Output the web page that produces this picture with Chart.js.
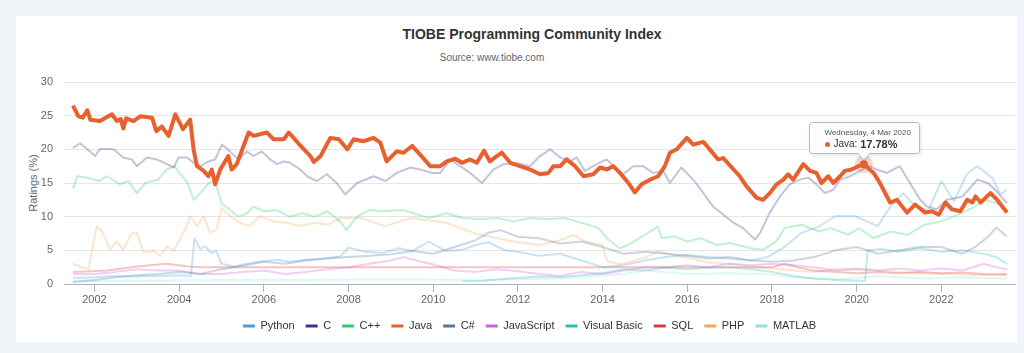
<!DOCTYPE html>
<html>
<head>
<meta charset="utf-8">
<script src="https://cdn.jsdelivr.net/npm/chart.js@4.4.0/dist/chart.umd.min.js"></script>
<style>
html, body { margin: 0; padding: 0; width: 1024px; height: 353px; overflow: hidden; background: #f1f5fa; font-family: "Liberation Sans", Arial, sans-serif; }
#card { position: absolute; left: 16px; top: 16px; width: 1001px; height: 326px; background: #fff; }
#title { position: absolute; left: 532px; top: 26px; transform: translateX(-50%); font-size: 14px; font-weight: bold; color: #333; white-space: nowrap; }
#subtitle { position: absolute; left: 492px; top: 52px; transform: translateX(-50%); font-size: 10px; color: #666; white-space: nowrap; }
#ytitle { position: absolute; left: 33px; top: 183px; transform: translate(-50%, -50%) rotate(-90deg); font-size: 11px; color: #666; white-space: nowrap; }
#wrap { position: absolute; left: 0; top: 0; width: 1024px; height: 353px; }
</style>
</head>
<body>
<div id="card"></div>
<div id="title">TIOBE Programming Community Index</div>
<div id="subtitle">Source: www.tiobe.com</div>
<div id="ytitle">Ratings (%)</div>
<div id="wrap"><canvas id="myChart"></canvas></div>
<script>
// ratings, [year, percent]
var java = [[2001.49,26.5],[2001.62,24.9],[2001.72,24.7],[2001.83,25.8],[2001.9,24.4],[2002.13,24.2],[2002.41,25.2],[2002.53,24.2],[2002.62,24.5],[2002.68,23.1],[2002.75,24.6],[2002.92,24.2],[2003.08,24.9],[2003.36,24.7],[2003.46,22.7],[2003.59,23.4],[2003.75,22.0],[2003.91,25.2],[2004.09,23.0],[2004.26,24.4],[2004.34,20.0],[2004.42,17.5],[2004.58,16.8],[2004.69,16.0],[2004.77,17.0],[2004.85,14.8],[2004.97,17.0],[2005.16,19.0],[2005.24,17.0],[2005.36,17.8],[2005.52,20.5],[2005.64,22.5],[2005.76,22.0],[2006.07,22.5],[2006.23,21.5],[2006.47,21.5],[2006.59,22.5],[2006.87,20.5],[2007.1,19.0],[2007.18,18.1],[2007.34,19.0],[2007.57,21.7],[2007.77,21.5],[2007.97,20.0],[2008.12,21.5],[2008.35,21.2],[2008.59,21.7],[2008.75,21.0],[2008.9,18.2],[2009.14,19.7],[2009.3,19.5],[2009.5,20.5],[2009.69,19.2],[2009.93,17.5],[2010.17,17.5],[2010.32,18.2],[2010.52,18.6],[2010.68,18.0],[2010.87,18.5],[2011.03,18.0],[2011.2,19.8],[2011.34,18.2],[2011.46,18.8],[2011.62,19.5],[2011.82,18.0],[2012.05,17.5],[2012.29,17.0],[2012.52,16.3],[2012.72,16.5],[2012.84,17.5],[2013.0,17.5],[2013.15,18.5],[2013.35,17.5],[2013.55,16.0],[2013.78,16.3],[2013.94,17.3],[2014.1,17.0],[2014.25,17.5],[2014.41,16.5],[2014.61,15.0],[2014.76,13.6],[2014.92,14.8],[2015.12,15.5],[2015.31,16.0],[2015.47,17.5],[2015.59,19.5],[2015.75,20.0],[2015.99,21.7],[2016.14,20.7],[2016.38,21.1],[2016.53,20.0],[2016.73,18.5],[2016.85,18.7],[2017.05,17.3],[2017.24,16.0],[2017.4,14.5],[2017.64,12.8],[2017.79,12.5],[2017.95,13.5],[2018.11,14.8],[2018.27,15.5],[2018.38,16.3],[2018.5,15.5],[2018.74,17.8],[2018.9,16.8],[2019.05,16.5],[2019.17,15.0],[2019.33,16.0],[2019.45,15.0],[2019.61,16.0],[2019.72,16.8],[2019.88,17.0],[2020.04,17.5],[2020.17,17.78],[2020.4,16.5],[2020.55,15.0],[2020.79,12.1],[2020.95,12.5],[2021.19,10.6],[2021.38,11.8],[2021.62,10.6],[2021.78,10.8],[2021.94,10.3],[2022.1,12.1],[2022.25,11.1],[2022.45,10.8],[2022.61,12.5],[2022.73,12.1],[2022.81,13.0],[2022.93,12.1],[2023.16,13.5],[2023.32,12.5],[2023.55,10.6]];

var cLang = [[2001.49,20.2],[2001.66,20.9],[2001.83,20.0],[2002.02,19.0],[2002.13,20.1],[2002.45,20.0],[2002.68,18.8],[2002.88,18.5],[2003.0,17.5],[2003.24,18.8],[2003.47,18.5],[2003.71,17.8],[2003.87,17.3],[2003.99,18.8],[2004.19,18.8],[2004.34,18.0],[2004.5,17.5],[2004.69,18.2],[2004.85,18.5],[2005.01,20.7],[2005.2,19.7],[2005.4,18.5],[2005.6,19.7],[2005.75,19.0],[2005.95,19.7],[2006.15,18.5],[2006.31,17.8],[2006.47,18.2],[2006.62,18.0],[2006.86,17.0],[2007.02,16.0],[2007.25,15.3],[2007.49,16.3],[2007.72,15.0],[2007.92,13.3],[2008.2,15.0],[2008.59,16.0],[2008.87,15.3],[2009.14,16.5],[2009.46,17.3],[2009.69,17.0],[2009.97,16.5],[2010.17,16.5],[2010.4,18.5],[2010.64,17.5],[2010.87,16.5],[2011.15,15.0],[2011.42,17.0],[2011.66,17.8],[2011.94,18.0],[2012.29,17.5],[2012.52,19.0],[2012.76,20.0],[2013.0,18.8],[2013.23,18.2],[2013.39,18.8],[2013.58,16.8],[2013.86,17.8],[2014.1,18.5],[2014.33,17.0],[2014.49,16.3],[2014.72,17.5],[2014.96,17.5],[2015.19,16.5],[2015.43,16.8],[2015.59,15.0],[2015.86,17.3],[2016.14,15.5],[2016.38,13.5],[2016.61,11.5],[2016.89,10.1],[2017.09,9.1],[2017.32,8.3],[2017.48,7.3],[2017.6,6.6],[2017.72,7.6],[2017.95,10.6],[2018.19,13.0],[2018.42,14.8],[2018.66,15.5],[2018.86,15.8],[2019.05,14.8],[2019.25,13.5],[2019.45,14.0],[2019.61,15.5],[2019.84,16.0],[2020.08,16.8],[2020.32,17.5],[2020.47,17.0],[2020.71,16.5],[2021.02,17.5],[2021.26,15.0],[2021.5,12.5],[2021.66,11.5],[2021.89,11.1],[2022.13,12.5],[2022.5,13.0],[2022.85,15.5],[2023.1,15.0],[2023.3,13.8],[2023.55,12.0]];

var python = [[2001.49,0.9],[2002.0,1.0],[2002.5,1.2],[2003.0,1.1],[2003.5,1.2],[2004.0,1.3],[2004.28,1.2],[2004.36,6.8],[2004.5,5.2],[2004.62,5.6],[2004.75,4.6],[2004.88,4.9],[2005.0,3.0],[2005.3,2.6],[2005.6,3.0],[2005.9,3.3],[2006.3,3.6],[2006.6,3.3],[2007.0,3.6],[2007.4,3.8],[2007.8,4.1],[2008.0,5.4],[2008.4,4.8],[2008.8,4.6],[2009.2,5.3],[2009.5,4.9],[2009.9,6.3],[2010.3,4.9],[2010.7,5.1],[2011.0,5.8],[2011.3,6.2],[2011.7,5.0],[2012.0,4.8],[2012.5,4.2],[2013.0,4.5],[2013.5,3.5],[2014.0,2.5],[2014.5,2.8],[2015.0,3.5],[2015.5,4.0],[2016.0,4.3],[2016.5,4.0],[2017.0,3.8],[2017.5,3.5],[2017.9,4.0],[2018.3,5.5],[2018.7,7.6],[2019.1,8.5],[2019.5,10.1],[2019.95,10.1],[2020.5,8.6],[2020.8,11.5],[2021.1,13.5],[2021.4,11.5],[2021.7,11.0],[2022.0,15.3],[2022.3,12.3],[2022.6,16.3],[2022.85,17.5],[2023.2,15.8],[2023.4,13.3],[2023.55,14.0]];

var cpp = [[2001.49,14.2],[2001.6,16.0],[2001.9,15.7],[2002.1,15.3],[2002.3,16.0],[2002.6,14.8],[2002.8,15.3],[2003.0,13.5],[2003.2,15.0],[2003.5,15.5],[2003.7,17.0],[2003.9,17.5],[2004.0,16.5],[2004.2,15.0],[2004.35,12.5],[2004.5,13.5],[2004.7,15.0],[2004.85,15.3],[2005.0,12.0],[2005.2,11.0],[2005.4,10.0],[2005.6,10.5],[2005.75,11.5],[2006.0,10.8],[2006.3,11.0],[2006.6,10.0],[2006.9,10.5],[2007.2,10.0],[2007.5,10.8],[2007.8,9.3],[2007.95,8.0],[2008.2,10.0],[2008.5,11.0],[2008.75,10.8],[2009.3,11.0],[2009.9,9.8],[2010.3,10.5],[2010.7,9.8],[2011.1,9.6],[2011.5,9.8],[2011.9,9.3],[2012.3,9.8],[2012.7,9.6],[2013.1,9.8],[2013.5,9.1],[2013.9,8.3],[2014.1,6.8],[2014.4,5.3],[2014.6,5.8],[2015.0,7.3],[2015.3,8.5],[2015.4,6.8],[2015.7,7.1],[2016.0,6.3],[2016.3,6.8],[2016.7,5.8],[2017.0,6.1],[2017.5,5.3],[2017.8,5.1],[2018.1,6.3],[2018.3,8.3],[2018.7,8.8],[2019.1,7.8],[2019.4,8.3],[2019.8,7.3],[2020.05,8.3],[2020.4,6.8],[2020.8,7.8],[2021.2,7.3],[2021.6,8.8],[2022.0,9.3],[2022.4,10.3],[2022.8,11.5],[2023.0,12.5],[2023.3,12.0],[2023.55,11.0]];

var csharp = [[2001.49,0.3],[2002.0,0.6],[2002.5,1.0],[2003.0,1.3],[2003.5,1.5],[2004.0,1.8],[2004.5,1.5],[2005.0,2.2],[2005.5,2.7],[2006.0,3.3],[2006.5,3.0],[2007.0,3.5],[2007.5,3.8],[2008.0,4.0],[2008.5,4.2],[2009.0,4.4],[2009.5,4.9],[2010.0,4.5],[2010.5,5.5],[2011.0,6.5],[2011.3,7.6],[2011.6,8.0],[2012.0,7.0],[2012.5,6.8],[2013.0,6.0],[2013.5,6.3],[2014.0,5.5],[2014.5,4.5],[2015.0,4.8],[2015.5,4.5],[2016.0,4.2],[2016.5,3.8],[2017.0,4.0],[2017.5,3.5],[2018.0,3.3],[2018.5,3.5],[2019.0,4.0],[2019.5,5.0],[2020.0,5.5],[2020.5,4.5],[2021.0,5.0],[2021.5,5.5],[2022.0,5.5],[2022.5,4.5],[2022.8,5.5],[2023.1,7.0],[2023.3,8.4],[2023.55,7.0]];

var javascript = [[2001.49,1.5],[2002.0,1.5],[2002.5,1.8],[2003.0,2.2],[2003.5,2.0],[2004.0,2.0],[2004.5,1.5],[2005.0,1.5],[2005.5,1.8],[2006.0,2.0],[2006.5,1.5],[2007.0,1.8],[2007.5,2.2],[2008.0,2.5],[2008.5,3.0],[2009.0,3.5],[2009.3,4.0],[2009.6,3.5],[2010.0,2.9],[2010.5,2.0],[2011.0,1.8],[2011.5,2.2],[2012.0,1.9],[2012.5,1.5],[2013.0,1.2],[2013.5,1.8],[2014.0,1.5],[2014.5,2.0],[2015.0,2.5],[2015.5,2.5],[2016.0,2.8],[2016.5,2.5],[2017.0,3.0],[2017.5,2.8],[2018.0,3.0],[2018.5,2.8],[2019.0,2.5],[2019.5,2.0],[2020.0,2.2],[2020.5,2.0],[2021.0,2.3],[2021.5,2.0],[2022.0,2.3],[2022.5,2.0],[2023.0,3.0],[2023.3,2.5],[2023.55,2.2]];

var visualBasic = [[2010.7,0.4],[2011.2,0.5],[2011.8,0.8],[2012.5,1.1],[2013.0,1.0],[2013.5,1.3],[2014.0,1.6],[2014.5,2.2],[2015.0,2.0],[2015.5,2.4],[2016.0,2.2],[2016.5,2.4],[2017.0,2.5],[2017.5,2.2],[2018.0,1.8],[2018.5,1.2],[2019.0,0.8],[2019.5,0.6],[2020.2,0.5],[2020.26,5.0],[2020.6,5.2],[2021.0,4.8],[2021.5,5.3],[2022.0,4.8],[2022.5,5.0],[2023.0,4.5],[2023.3,4.0],[2023.55,3.0]];

var sql = [[2001.49,1.8],[2002.3,2.0],[2003.0,2.6],[2003.7,3.0],[2004.2,2.6],[2004.5,2.5],[2006.0,2.5],[2008.0,2.5],[2010.0,2.5],[2012.0,2.5],[2014.0,2.5],[2016.0,2.5],[2018.0,2.5],[2018.3,3.0],[2018.6,2.5],[2019.0,2.0],[2019.5,1.8],[2020.0,1.6],[2020.5,1.8],[2021.0,1.6],[2021.5,1.8],[2022.0,1.6],[2022.5,1.7],[2023.0,1.5],[2023.55,1.4]];

var php = [[2001.49,3.0],[2001.7,2.5],[2001.86,2.2],[2002.05,8.6],[2002.2,7.6],[2002.37,5.1],[2002.53,6.3],[2002.68,5.1],[2002.88,7.6],[2003.0,7.6],[2003.16,4.7],[2003.4,4.9],[2003.55,4.2],[2003.71,5.6],[2003.87,4.9],[2004.02,6.6],[2004.18,8.6],[2004.26,10.1],[2004.42,8.6],[2004.58,10.1],[2004.73,7.6],[2004.89,8.1],[2005.0,11.3],[2005.2,10.1],[2005.43,9.1],[2005.67,8.6],[2005.91,10.1],[2006.22,9.3],[2006.54,9.1],[2006.85,8.6],[2007.2,9.1],[2007.5,8.8],[2007.8,9.8],[2008.3,9.8],[2008.85,8.6],[2009.5,9.8],[2010.3,9.1],[2011.1,7.3],[2011.9,6.3],[2012.5,5.8],[2013.0,6.5],[2013.3,7.3],[2013.6,6.3],[2014.0,5.8],[2014.1,3.4],[2014.4,2.9],[2014.7,3.4],[2015.0,3.9],[2015.3,4.9],[2015.6,4.4],[2016.0,3.9],[2016.5,3.2],[2017.0,3.0],[2017.5,2.6],[2018.0,2.3],[2018.5,2.0],[2019.0,1.8],[2019.5,2.2],[2020.0,2.3],[2020.5,2.0],[2021.0,1.8],[2021.5,1.6],[2022.0,1.5],[2022.5,1.4],[2023.0,1.3],[2023.55,1.4]];

var matlab = [[2001.49,0.4],[2003.0,0.5],[2005.0,0.6],[2007.0,0.6],[2009.0,0.7],[2011.0,0.6],[2013.0,0.8],[2014.5,1.5],[2015.0,2.0],[2016.0,1.5],[2017.0,1.6],[2018.0,1.4],[2018.5,1.0],[2019.0,0.8],[2019.5,0.7],[2020.0,0.9],[2020.5,1.2],[2021.0,1.0],[2021.5,0.8],[2022.0,0.9],[2022.5,1.0],[2023.0,0.9],[2023.55,0.8]];

var names = ["Python", "C", "C++", "Java", "C#", "JavaScript", "Visual Basic", "SQL", "PHP", "MATLAB"];
var series = [python, cLang, cpp, java, csharp, javascript, visualBasic, sql, php, matlab];
var colors = ["#4a9ee0", "#3b378c", "#2ecc71", "#e8602e", "#5b7896", "#c865d8", "#24c2b0", "#d93b3b", "#f4a95c", "#92e2dc"];
var yearTicks = [2002, 2004, 2006, 2008, 2010, 2012, 2014, 2016, 2018, 2020, 2022];

var tipYear = 2020.17;
var tipHeader = "Wednesday, 4 Mar 2020";
var hot = 3; // Java is highlighted

function fade(hex, a) {
  var r = parseInt(hex.substr(1, 2), 16), g = parseInt(hex.substr(3, 2), 16), b = parseInt(hex.substr(5, 2), 16);
  return "rgba(" + r + "," + g + "," + b + "," + a + ")";
}

var datasets = series.map(function (s, i) {
  return {
    label: names[i],
    data: s,
    borderColor: i === hot ? colors[i] : fade(colors[i], 0.3),
    backgroundColor: colors[i],
    borderWidth: i === hot ? 4 : 2,
    pointRadius: 0,
    tension: 0,
    borderJoinStyle: "round",
    order: i === hot ? 0 : 1
  };
});

var tipPlugin = {
  id: "tip",
  afterLayout: function (chart) {
    // nudge the legend a little right, like the original
    chart.legend.left += 5;
    chart.legend.right += 5;
  },
  afterDatasetsDraw: function (chart) {
    var ctx = chart.ctx;
    var meta = chart.getDatasetMeta(hot);
    var idx = java.findIndex(function (p) { return p[0] === tipYear; });
    var pt = meta.data[idx];
    var px = pt.x, py = pt.y;
    ctx.save();
    ctx.fillStyle = fade(colors[hot], 0.25);
    ctx.beginPath(); ctx.arc(px, py, 9, 0, Math.PI * 2); ctx.fill();
    ctx.fillStyle = colors[hot];
    ctx.beginPath(); ctx.arc(px, py, 4, 0, Math.PI * 2); ctx.fill();

    var w = 110, h = 31;
    var bx = Math.round(px - w / 2) + 0.5, by = Math.round(py - 42) + 0.5;
    var tipY = py - 4;
    ctx.shadowColor = "rgba(0,0,0,0.15)";
    ctx.shadowBlur = 4;
    ctx.shadowOffsetX = 1;
    ctx.shadowOffsetY = 1;
    ctx.beginPath();
    ctx.moveTo(bx + 3, by);
    ctx.lineTo(bx + w - 3, by);
    ctx.quadraticCurveTo(bx + w, by, bx + w, by + 3);
    ctx.lineTo(bx + w, by + h - 3);
    ctx.quadraticCurveTo(bx + w, by + h, bx + w - 3, by + h);
    ctx.lineTo(px + 6, by + h);
    ctx.lineTo(px, tipY);
    ctx.lineTo(px - 6, by + h);
    ctx.lineTo(bx + 3, by + h);
    ctx.quadraticCurveTo(bx, by + h, bx, by + h - 3);
    ctx.lineTo(bx, by + 3);
    ctx.quadraticCurveTo(bx, by, bx + 3, by);
    ctx.closePath();
    ctx.fillStyle = "rgba(255,255,255,0.95)";
    ctx.fill();
    ctx.shadowColor = "transparent";
    ctx.strokeStyle = "#b8b8b8";
    ctx.lineWidth = 1;
    ctx.stroke();

    ctx.textBaseline = "middle";
    ctx.textAlign = "left";
    ctx.fillStyle = "#555";
    ctx.font = "8px 'Liberation Sans', Arial, sans-serif";
    ctx.fillText(tipHeader, bx + 15, by + 10);
    ctx.fillStyle = colors[hot];
    ctx.beginPath(); ctx.arc(bx + 18, by + 22, 2.5, 0, Math.PI * 2); ctx.fill();
    ctx.fillStyle = "#333";
    ctx.font = "10px 'Liberation Sans', Arial, sans-serif";
    var lab = names[hot] + ": ";
    ctx.fillText(lab, bx + 24, by + 22);
    var lw = ctx.measureText(lab).width;
    ctx.font = "bold 11px 'Liberation Sans', Arial, sans-serif";
    var val = java[idx][1].toFixed(2) + "%";
    ctx.fillText(val, bx + 24 + lw, by + 22);
    ctx.restore();
  }
};

var ctx = document.getElementById("myChart");
var myChart = new Chart(ctx, {
  type: "line",
  data: { datasets: datasets },
  options: {
    responsive: true,
    maintainAspectRatio: false,
    animation: false,
    layout: { padding: { left: 34, right: 9, top: 82, bottom: 11.5 } },
    interaction: { mode: "nearest", intersect: false },
    scales: {
      x: {
        type: "linear",
        min: 2001.28,
        max: 2023.74,
        afterBuildTicks: function (scale) {
          scale.ticks = yearTicks.map(function (v) { return { value: v }; });
        },
        afterFit: function (scale) { scale.height = 25.5; },
        ticks: {
          color: "#666",
          font: { size: 11, family: "'Liberation Sans', Arial, sans-serif" },
          padding: 1,
          maxRotation: 0,
          autoSkip: false,
          callback: function (v) { return String(v); }
        },
        grid: { drawOnChartArea: false, drawTicks: true, tickLength: 8, color: "#aab2be" },
        border: { color: "#aab2be", width: 1 }
      },
      y: {
        min: 0,
        max: 30,
        afterFit: function (scale) { scale.width = 30; },
        ticks: {
          stepSize: 5,
          color: "#666",
          padding: 11,
          font: { size: 11, family: "'Liberation Sans', Arial, sans-serif" }
        },
        grid: { color: "#e6e6e6", drawTicks: false },
        border: { display: false }
      }
    },
    plugins: {
      tooltip: { enabled: false },
      legend: {
        position: "bottom",
        labels: {
          boxWidth: 12,
          boxHeight: 3,
          padding: 11,
          color: "#333",
          font: { size: 11, family: "'Liberation Sans', Arial, sans-serif" },
          generateLabels: function (chart) {
            return chart.data.datasets.map(function (d, i) {
              return { text: d.label, fillStyle: colors[i], strokeStyle: colors[i], lineWidth: 0, datasetIndex: i, hidden: false, fontColor: "#333" };
            });
          }
        }
      }
    }
  },
  plugins: [tipPlugin]
});
</script>
</body>
</html>
